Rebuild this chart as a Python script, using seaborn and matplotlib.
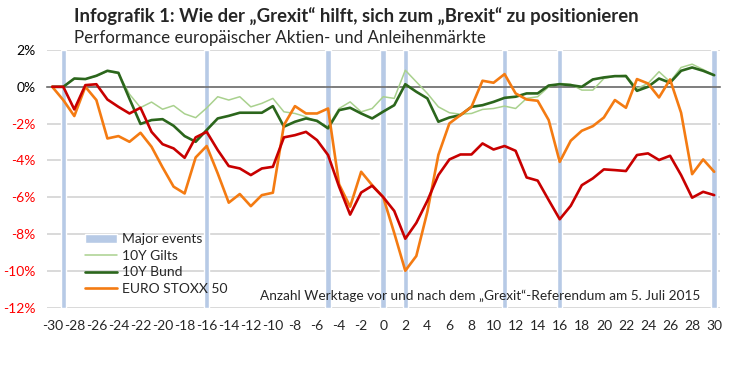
import matplotlib
matplotlib.use("Agg")
import matplotlib.pyplot as plt
import seaborn as sns
import numpy as np
import pandas as pd

days = list(range(-30, 31))

events = [-29, -16, -5, 0, 2, 11, 16, 30]

gilts = [0, 0, 0.45, 0.42, 0.58, 0.85, 0.72, -0.4, -1.13, -0.83, -1.22, -1.02, -1.47, -1.68, -1.15,
         -0.54, -0.72, -0.54, -1.09, -0.9, -0.63, -1.36, -1.45, -1.63, -1.9, -2.17, -1.18, -0.82, -1.36, -1.18,
         -0.54, -0.63, 0.9, 0.27, -0.36, -1.09, -1.41, -1.49, -1.45, -1.23, -1.18, -1.05, -1.18, -0.63, -0.54, 0.0,
         0.18, 0.14, -0.18, -0.18, 0.45, 0.58, 0.63, -0.09, 0.18, 0.82, 0.27, 1.05, 1.23, 0.94, 0.63]

bund = [0, 0, 0.45, 0.42, 0.6, 0.87, 0.76, -0.65, -2.02, -1.81, -1.76, -2.12, -2.68, -2.99, -2.35,
        -1.72, -1.58, -1.41, -1.41, -1.41, -1.05, -2.17, -1.9, -1.72, -1.85, -2.26, -1.27, -1.14, -1.45, -1.72,
        -1.35, -1.0, 0.14, -0.27, -0.63, -1.9, -1.67, -1.54, -1.09, -1.0, -0.82, -0.6, -0.54, -0.36, -0.36, 0.07,
        0.14, 0.09, 0, 0.4, 0.51, 0.58, 0.58, -0.22, 0, 0.45, 0.22, 0.87, 1.05, 0.87, 0.63]

stoxx = [0, -0.72, -1.59, 0.0, -0.72, -2.81, -2.68, -2.99, -2.5, -3.26, -4.38, -5.43, -5.8, -3.84, -3.22,
         -4.71, -6.3, -5.83, -6.49, -5.89, -5.76, -2.08, -1.05, -1.45, -1.45, -1.18, -5.3, -6.52, -4.62, -5.35,
         -6.0, -7.95, -10.0, -9.2, -6.8, -3.7, -1.99, -1.54, -1.09, 0.33, 0.22, 0.69, -0.36, -0.69, -0.76, -1.81,
         -4.08, -2.93, -2.39, -2.14, -1.67, -0.72, -1.14, 0.42, 0.18, -0.58, 0.4, -1.41, -4.75, -3.95, -4.62]

red_series = [0, 0, -1.23, 0.09, 0.14, -0.69, -1.09, -1.45, -1.14, -2.45, -3.12, -3.35, -3.86, -2.75, -2.45,
              -3.44, -4.31, -4.44, -4.8, -4.44, -4.35, -2.75, -2.63, -2.45, -2.9, -3.71, -5.43, -6.95, -5.75, -5.38,
              -6.0, -6.75, -8.26, -7.4, -6.2, -4.8, -3.95, -3.68, -3.68, -3.08, -3.41, -3.22, -3.48, -4.93, -5.1, -6.16,
              -7.2, -6.47, -5.35, -4.98, -4.49, -4.53, -4.58, -3.71, -3.62, -3.98, -3.75, -4.8, -6.03, -5.71, -5.89]

yticks = list(range(-12, 3, 2))
xticks = list(range(-30, 31, 2))

sns.set_style("white")
plt.rcParams["font.family"] = ["Lato", "DejaVu Sans"]

fig = plt.figure(figsize=(7.5, 3.68), dpi=100)
ax = fig.add_axes([0.0623, 0.1644, 0.8973, 0.6997])

bars = ax.bar(events, yticks[-1] - yticks[0], bottom=yticks[0], width=0.5,
              color="#b7cae6", zorder=1, label="Major events")

df = pd.DataFrame({"day": days, "gilts": gilts, "bund": bund, "stoxx": stoxx, "red": red_series})
sns.lineplot(data=df, x="day", y="gilts", color="#a9d18e", lw=1.1, ax=ax, zorder=3)
sns.lineplot(data=df, x="day", y="bund", color="#2b661c", lw=1.9, ax=ax, zorder=4)
sns.lineplot(data=df, x="day", y="stoxx", color="#f47b12", lw=1.9, ax=ax, zorder=5)
sns.lineplot(data=df, x="day", y="red", color="#c80000", lw=1.9, ax=ax, zorder=6)
lines = ax.get_lines()

ax.set_xlim(-30.5, 30.5)
ax.set_ylim(yticks[0], yticks[-1])
ax.set_xlabel("")
ax.set_ylabel("")

# y axis: percent labels, negatives in red
ax.set_yticks(yticks)
ax.set_yticklabels([f"{v}%" for v in yticks], fontsize=10)
for lab, v in zip(ax.get_yticklabels(), yticks):
    lab.set_color("#ff0000" if v < 0 else "#000000")
ax.yaxis.grid(True, color="#d9d9d9", lw=1.4, zorder=0)
ax.set_axisbelow(True)
ax.tick_params(axis="y", length=0, pad=8)

for s in ["left", "right", "top"]:
    ax.spines[s].set_visible(False)

# category axis sits on 0% with small ticks between categories
ax.spines["bottom"].set_position(("data", 0))
ax.spines["bottom"].set_color("#6e6e6e")
ax.spines["bottom"].set_linewidth(1.2)
ax.spines["bottom"].set_zorder(2)
ax.set_xticks(np.arange(-30.5, 31, 1), minor=True)
ax.set_xticks(xticks)
ax.tick_params(axis="x", which="minor", length=5, width=1, color="#6e6e6e", direction="out")
ax.tick_params(axis="x", which="major", length=0, labelbottom=False)

sec = ax.secondary_xaxis("bottom")
sec.set_xticks(xticks)
sec.set_xticklabels([str(v) for v in xticks], fontsize=10)
sec.tick_params(length=0, pad=9)
sec.spines["bottom"].set_visible(False)

ax.legend([bars, lines[0], lines[1], lines[2]],
          ["Major events", "10Y Gilts", "10Y Bund", "EURO STOXX 50"],
          loc="upper left", bbox_to_anchor=(0.113, 0.366), bbox_transform=fig.transFigure,
          frameon=False, fontsize=10, borderpad=0, borderaxespad=0,
          handlelength=2.3, handletextpad=0.4, labelspacing=0.33)

fig.text(0.933, 1 - 296 / 368, "Anzahl Werktage vor und nach dem \u201eGrexit\u201c-Referendum am 5. Juli 2015",
         ha="right", va="center", fontsize=9.8)

fig.text(74 / 750, 1 - 17 / 368,
         "Infografik 1: Wie der \u201eGrexit\u201c hilft, sich zum \u201eBrexit\u201c zu positionieren",
         ha="left", va="center", fontsize=13.3, fontweight="bold")
fig.text(74 / 750, 1 - 38 / 368, "Performance europäischer Aktien- und Anleihenmärkte",
         ha="left", va="center", fontsize=12.2, color="#262626")

fig.savefig("out.png", dpi=100)
